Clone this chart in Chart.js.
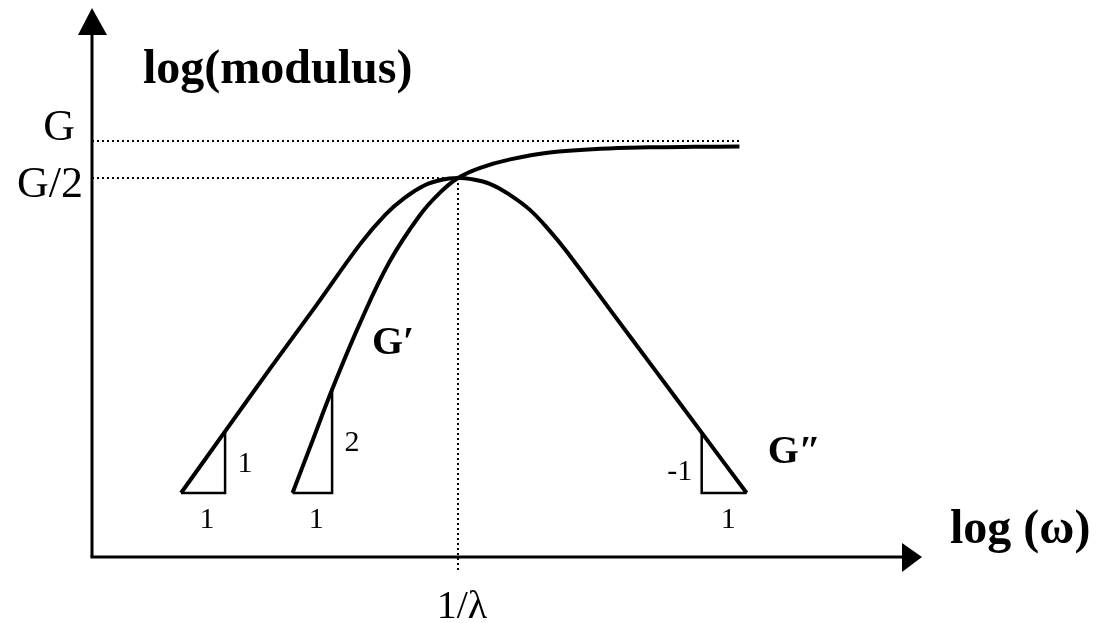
<!DOCTYPE html>
<html>
<head>
<meta charset="utf-8">
<script src="https://cdn.jsdelivr.net/npm/chart.js@4/dist/chart.umd.min.js"></script>
<style>
  html, body { margin: 0; padding: 0; background: #fff; }
  canvas { display: block; }
</style>
</head>
<body>
<canvas id="c" width="1099" height="623"></canvas>
<script>
// Maxwell-type response: x = log10(ωλ), y = log10(modulus / G)
const lossX    = [-3.08, -2.59, -2.09, -1.59, -1.09, -0.81, -0.59, -0.37, -0.18, 0.00, 0.13, 0.36, 0.58, 0.80, 1.02, 1.20, 1.69, 2.19, 2.71, 3.21];
const lossY    = [-2.86, -2.36, -1.85, -1.35, -0.84, -0.60, -0.46, -0.36, -0.315, -0.301, -0.308, -0.35, -0.44, -0.56, -0.73, -0.89, -1.37, -1.86, -2.37, -2.86];
const storageX = [-1.84, -1.62, -1.40, -1.09, -0.76, -0.42, -0.20, 0.00, 0.24, 0.58, 1.02, 1.58, 2.13, 2.63, 3.13];
const storageY = [-2.86, -2.44, -2.02, -1.48, -0.98, -0.60, -0.42, -0.301, -0.22, -0.15, -0.094, -0.064, -0.052, -0.048, -0.046];

// Reference levels and their labels
const plateauLevel = 0;        // G
const halfLevel = -0.301;      // G/2
const crossoverX = 0;          // 1/λ
const plateauEndX = 3.13;
const levelLabels = ['G', 'G/2'];
const crossoverLabel = '1/λ';

// Slope triangles: run from footX to cornerX along baseY, rise to topY
const triFootX   = [-3.08, -1.84, 3.21];
const triCornerX = [-2.59, -1.40, 2.71];
const triBaseY   = [-2.86, -2.86, -2.86];
const triTopY    = [-2.36, -2.02, -2.37];
const triRise    = ['1', '2', '-1'];
const triRun     = ['1', '1', '1'];

// Axis range
const xMin = -4.07, xMax = 5.16;
const yMin = -3.38, yMax = 1.08;

const SERIF = '"Liberation Serif", "Times New Roman", serif';

const pts = (xs, ys) => xs.map((x, i) => ({ x, y: ys[i] }));

const curveStyle = {
  borderColor: '#000', borderWidth: 4, pointRadius: 0, fill: false, tension: 0.4
};
const legStyle = { borderColor: '#000', borderWidth: 2.5, pointRadius: 0, fill: false, tension: 0 };
const dotStyle = { borderColor: '#000', borderWidth: 2, pointRadius: 0, fill: false, tension: 0, borderDash: [2, 3] };

const datasets = [
  Object.assign({ label: "G''", data: pts(lossX, lossY), order: 0 }, curveStyle),
  Object.assign({ label: "G'", data: pts(storageX, storageY), order: 0 }, curveStyle)
];
triFootX.forEach((fx, i) => {
  datasets.push(Object.assign({
    label: 'slope ' + triRise[i],
    order: 1,
    data: [
      { x: triCornerX[i], y: triTopY[i] },
      { x: triCornerX[i], y: triBaseY[i] },
      { x: fx, y: triBaseY[i] }
    ]
  }, legStyle));
});
datasets.push(Object.assign({ label: 'G level', order: 2,
  data: [{ x: xMin, y: plateauLevel }, { x: plateauEndX, y: plateauLevel }] }, dotStyle));
datasets.push(Object.assign({ label: 'G/2 level', order: 2,
  data: [{ x: xMin, y: halfLevel }, { x: crossoverX, y: halfLevel }] }, dotStyle));
datasets.push(Object.assign({ label: '1/λ', order: 2, clip: false,
  data: [{ x: crossoverX, y: halfLevel }, { x: crossoverX, y: yMin - 0.13 }] }, dotStyle));

// Axes with arrowheads, axis titles and annotations
const annotate = {
  id: 'annotate',
  beforeDraw(chart) {
    const c = chart.ctx;
    c.save();
    c.fillStyle = '#fff';
    c.fillRect(0, 0, chart.width, chart.height);
    c.restore();
  },
  afterDraw(chart) {
    const c = chart.ctx;
    const a = chart.chartArea;
    const xs = chart.scales.x, ys = chart.scales.y;
    c.save();
    c.strokeStyle = '#000';
    c.fillStyle = '#000';
    c.lineWidth = 3;

    // vertical axis
    c.beginPath();
    c.moveTo(a.left, a.bottom);
    c.lineTo(a.left, a.top + 26);
    c.stroke();
    c.beginPath();
    c.moveTo(a.left, a.top);
    c.lineTo(a.left - 14, a.top + 27);
    c.lineTo(a.left + 15, a.top + 27);
    c.closePath();
    c.fill();

    // horizontal axis
    c.beginPath();
    c.moveTo(a.left - 1.5, a.bottom);
    c.lineTo(a.right - 19, a.bottom);
    c.stroke();
    c.beginPath();
    c.moveTo(a.right, a.bottom);
    c.lineTo(a.right - 20, a.bottom - 14);
    c.lineTo(a.right - 20, a.bottom + 15);
    c.closePath();
    c.fill();

    // axis titles
    c.textAlign = 'left';
    c.textBaseline = 'alphabetic';
    c.font = 'bold 48px ' + SERIF;
    c.fillText('log(modulus)', a.left + 51, a.top + 75);
    c.fillText('log (\u03C9)', a.right + 28, a.bottom - 14);

    // level labels
    c.textAlign = 'right';
    c.font = '44px ' + SERIF;
    c.fillText(levelLabels[0], a.left - 17, ys.getPixelForValue(plateauLevel) - 1);
    c.fillText(levelLabels[1], a.left - 9, ys.getPixelForValue(halfLevel) + 19);

    // crossover label
    c.textAlign = 'center';
    c.font = '40px ' + SERIF;
    c.fillText(crossoverLabel, xs.getPixelForValue(crossoverX) + 4, a.bottom + 61);

    // curve names
    c.textAlign = 'left';
    c.font = 'bold 40px ' + SERIF;
    c.fillText('G\u2032', xs.getPixelForValue(storageX[3]) + 12, ys.getPixelForValue(storageY[3]) + 31);
    c.fillText('G\u2033', xs.getPixelForValue(lossX[lossX.length - 1]) + 21, ys.getPixelForValue(lossY[lossY.length - 2]) + 30);

    // slope labels
    c.font = '30px ' + SERIF;
    c.textBaseline = 'middle';
    triFootX.forEach((fx, i) => {
      const cx = xs.getPixelForValue(triCornerX[i]);
      const fxp = xs.getPixelForValue(fx);
      const by = ys.getPixelForValue(triBaseY[i]);
      const ty = ys.getPixelForValue(triTopY[i]);
      const right = fx < triCornerX[i];
      c.textAlign = 'center';
      c.fillText(triRise[i], right ? cx + 20 : cx - 22, (by + ty) / 2 + (right ? 2 : 9));
      c.fillText(triRun[i], (cx + fxp) / 2 + 4, by + 27);
    });
    c.restore();
  }
};

new Chart(document.getElementById('c'), {
  type: 'line',
  data: { datasets },
  options: {
    responsive: false,
    animation: false,
    layout: { padding: { left: 92, right: 177, top: 8, bottom: 66 } },
    plugins: { legend: { display: false }, tooltip: { enabled: false } },
    scales: {
      x: { type: 'linear', min: xMin, max: xMax, display: false },
      y: { type: 'linear', min: yMin, max: yMax, display: false }
    }
  },
  plugins: [annotate]
});
</script>
</body>
</html>
